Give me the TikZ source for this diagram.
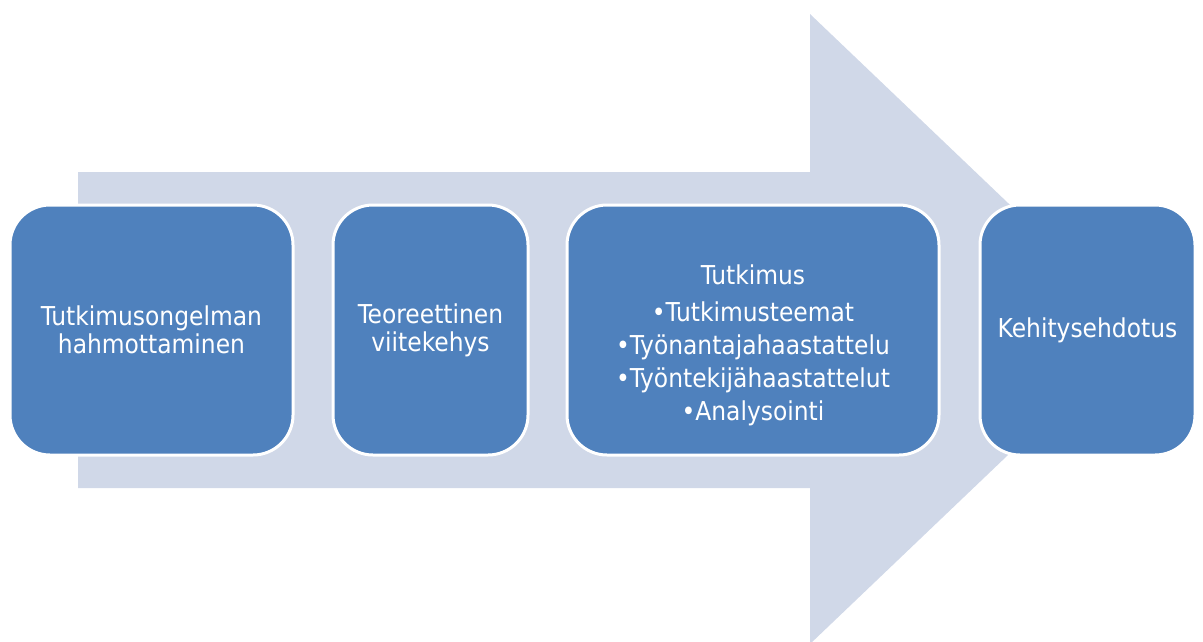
\documentclass[tikz,border=0pt]{standalone}
\usepackage{fontspec}
\setmainfont{DejaVu Sans Condensed}
\definecolor{arrowc}{RGB}{208,216,232}
\definecolor{boxc}{RGB}{79,129,189}
\begin{document}
\begin{tikzpicture}[x=1pt,y=-1pt,
  stepbox/.style={draw=white,line width=3pt,fill=boxc,rounded corners=40pt,
    minimum height=250pt,inner sep=0pt,text=white,align=center,
    font=\fontsize{26}{28}\selectfont},
  txt/.style={text=white,align=center,inner sep=0pt,font=\fontsize{26}{28}\selectfont}]
\useasboundingbox (0,0) rectangle (1203,641);
\clip (0,0) rectangle (1203,641);
\fill[arrowc] (78,172) -- (810,172) -- (810,14) -- (1140,329) -- (810,644) -- (810,488) -- (78,488) -- cycle;
\node[stepbox,minimum width=283pt] (b1) at (151.5,330) {Tutkimusongelman\\hahmottaminen};
\node[stepbox,minimum width=195pt] (b2) at (430.5,330) {Teoreettinen\\viitekehys};
\node[stepbox,minimum width=372pt] (b3) at (753,330) {};
\node[stepbox,minimum width=215pt] (b4) at (1087.5,330) {Kehitysehdotus};
\node[txt,font=\fontsize{26}{33}\selectfont] (t3) at (753,345) {Tutkimus\\[4pt]\textbullet Tutkimusteemat\\\textbullet Työnantajahaastattelu\\\textbullet Työntekijähaastattelut\\\textbullet Analysointi};
\end{tikzpicture}
\end{document}
